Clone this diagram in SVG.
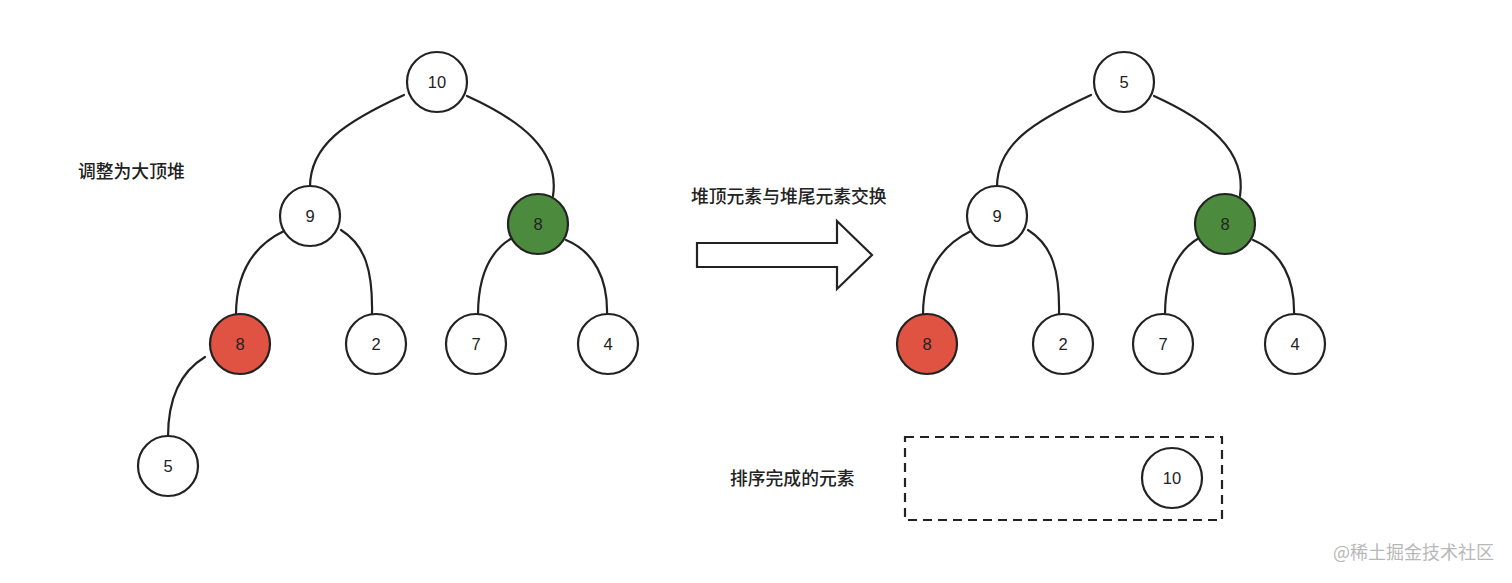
<svg xmlns="http://www.w3.org/2000/svg" width="1512" height="583" viewBox="0 0 1512 583">
<style>
.n circle{stroke:#222;stroke-width:2.2;fill:#fff}
.n.green circle{fill:#4c8b3e}
.n.red circle{fill:#e05242}
.n text{font-family:"Liberation Sans","Noto Sans",sans-serif;font-size:16.5px;fill:#222;text-anchor:middle;dominant-baseline:central}
.e path{fill:none;stroke:#222;stroke-width:2.2;stroke-linecap:round}
.lbl{font-family:"Noto Sans CJK SC","Noto Sans",sans-serif;font-size:17.8px;font-weight:500;fill:#222}
</style>
<rect width="1512" height="583" fill="#fff"/>
<g id="connectors" class="e">
<path d="M404,95 C345,122 310,145 310,187"/>
<path d="M467,96 C520,120 560,150 553,196"/>
<path d="M284,231 C255,245 236,270 236,315"/>
<path d="M341,230 C365,245 373,270 372,315"/>
<path d="M512,238 C488,252 478,280 478,315"/>
<path d="M566,240 C595,252 608,280 607,315"/>
<path d="M205,357 C180,372 168,400 168,437"/>
<path d="M1091,95 C1032,122 997,145 997,187"/>
<path d="M1154,96 C1207,120 1247,150 1240,196"/>
<path d="M971,231 C942,245 923,270 923,315"/>
<path d="M1028,230 C1052,245 1060,270 1059,315"/>
<path d="M1199,238 C1175,252 1165,280 1165,315"/>
<path d="M1253,240 C1282,252 1295,280 1294,315"/>
</g>
<g id="L10" class="n"><circle cx="437" cy="82" r="30"/><text x="437" y="82">10</text></g>
<g id="L9" class="n"><circle cx="310" cy="216" r="30"/><text x="310" y="216">9</text></g>
<g id="L8g" class="n green"><circle cx="538" cy="224" r="30"/><text x="538" y="224">8</text></g>
<g id="L8r" class="n red"><circle cx="240" cy="344" r="30"/><text x="240" y="344">8</text></g>
<g id="L2" class="n"><circle cx="376" cy="344" r="30"/><text x="376" y="344">2</text></g>
<g id="L7" class="n"><circle cx="476" cy="344" r="30"/><text x="476" y="344">7</text></g>
<g id="L4" class="n"><circle cx="608" cy="344" r="30"/><text x="608" y="344">4</text></g>
<g id="L5" class="n"><circle cx="168" cy="466" r="30"/><text x="168" y="466">5</text></g>
<g id="R5" class="n"><circle cx="1124" cy="82" r="30"/><text x="1124" y="82">5</text></g>
<g id="R9" class="n"><circle cx="997" cy="216" r="30"/><text x="997" y="216">9</text></g>
<g id="R8g" class="n green"><circle cx="1225" cy="224" r="30"/><text x="1225" y="224">8</text></g>
<g id="R8r" class="n red"><circle cx="927" cy="344" r="30"/><text x="927" y="344">8</text></g>
<g id="R2" class="n"><circle cx="1063" cy="344" r="30"/><text x="1063" y="344">2</text></g>
<g id="R7" class="n"><circle cx="1163" cy="344" r="30"/><text x="1163" y="344">7</text></g>
<g id="R4" class="n"><circle cx="1295" cy="344" r="30"/><text x="1295" y="344">4</text></g>
<g id="sorted">
<rect x="905" y="437" width="317" height="83" fill="none" stroke="#222" stroke-width="2.2" stroke-dasharray="9,6"/>
</g>
<g id="S10" class="n"><circle cx="1172" cy="478" r="30"/><text x="1172" y="478">10</text></g>
<g id="arrow">
<polygon points="697,243 837,243 837,221 872,255 837,289 837,267 697,267" fill="#fff" stroke="#222" stroke-width="2.2" stroke-linejoin="miter"/>
</g>
<text class="lbl" x="78" y="178">调整为大顶堆</text>
<text class="lbl" x="691" y="203">堆顶元素与堆尾元素交换</text>
<text class="lbl" x="730" y="485">排序完成的元素</text>
<text x="1333" y="559" font-family="Noto Sans CJK SC,Noto Sans,sans-serif" font-size="18" fill="#b8b8b8">@稀土掘金技术社区</text>
</svg>
